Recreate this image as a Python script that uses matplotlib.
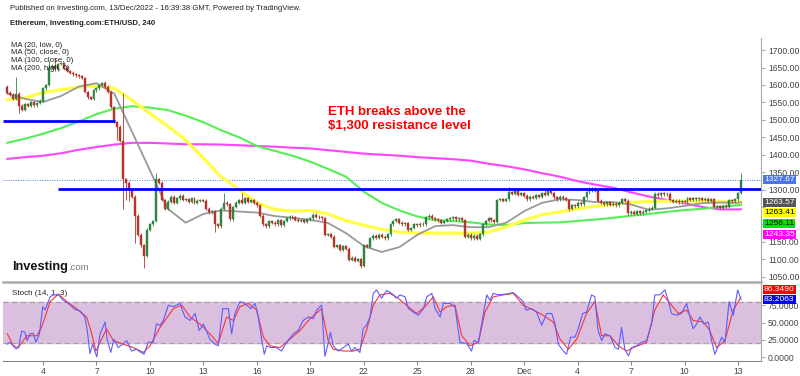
import matplotlib
matplotlib.use("Agg")
import matplotlib.pyplot as plt
import matplotlib.dates as mdates
import matplotlib.transforms as mtransforms
import numpy as np
import pandas as pd

plt.rcParams['font.family'] = ['Liberation Sans', 'DejaVu Sans']

# ---- data (ETH/USD 4h candles) ----
t0 = pd.Timestamp("2022-11-02 00:00")
first_open = 1595
closes = [
    1578, 1572, 1560, 1575, 1540, 1528,   # Nov 2
    1545, 1540, 1550, 1542, 1548, 1555,   # Nov 3
    1590, 1600, 1650, 1655, 1645, 1660,   # Nov 4
    1662, 1650, 1640, 1635, 1630, 1628,   # Nov 5
    1625, 1620, 1580, 1565, 1560, 1585,   # Nov 6
    1590, 1600, 1605, 1595, 1580, 1537,   # Nov 7
    1494, 1480, 1440, 1330, 1320, 1300,   # Nov 8
    1280, 1225, 1170, 1140, 1110, 1185,   # Nov 9
    1200, 1210, 1330, 1320, 1270, 1245,   # Nov 10
    1265, 1280, 1262, 1275, 1282, 1270,   # Nov 11
    1272, 1265, 1275, 1262, 1268, 1270,   # Nov 12
    1268, 1245, 1235, 1238, 1200, 1195,   # Nov 13
    1245, 1262, 1258, 1215, 1250, 1262,   # Nov 14
    1270, 1262, 1275, 1265, 1270, 1262,   # Nov 15
    1255, 1225, 1200, 1195, 1210, 1205,   # Nov 16
    1200, 1212, 1198, 1210, 1218, 1222,   # Nov 17
    1220, 1214, 1210, 1212, 1208, 1215,   # Nov 18
    1218, 1228, 1222, 1220, 1218, 1170,   # Nov 19
    1172, 1165, 1135, 1140, 1128, 1138,   # Nov 20
    1130, 1098, 1105, 1095, 1100, 1082,   # Nov 21
    1140, 1135, 1160, 1168, 1162, 1170,   # Nov 22
    1165, 1160, 1172, 1200, 1210, 1215,   # Nov 23
    1205, 1200, 1203, 1185, 1190, 1200,   # Nov 24
    1198, 1202, 1200, 1220, 1225, 1218,   # Nov 25
    1215, 1212, 1205, 1210, 1215, 1218,   # Nov 26
    1220, 1215, 1218, 1212, 1165, 1170,   # Nov 27
    1160, 1168, 1158, 1172, 1200, 1210,   # Nov 28
    1218, 1212, 1208, 1270, 1272, 1268,   # Nov 29
    1272, 1292, 1288, 1296, 1285, 1290,   # Nov 30
    1282, 1272, 1280, 1276, 1284, 1280,   # Dec 1
    1290, 1285, 1295, 1290, 1278, 1272,   # Dec 2
    1280, 1275, 1270, 1245, 1255, 1252,   # Dec 3
    1262, 1258, 1278, 1292, 1298, 1302,   # Dec 4
    1296, 1268, 1262, 1258, 1264, 1256,   # Dec 5
    1260, 1255, 1262, 1272, 1268, 1232,   # Dec 6
    1236, 1230, 1238, 1232, 1236, 1240,   # Dec 7
    1245, 1248, 1288, 1284, 1290, 1286,   # Dec 8
    1288, 1270, 1265, 1268, 1263, 1267,   # Dec 9
    1265, 1276, 1270, 1275, 1272, 1276,   # Dec 10
    1270, 1274, 1268, 1272, 1250, 1252,   # Dec 11
    1248, 1254, 1250, 1270, 1266, 1272,   # Dec 12
    1290, 1327.67,                        # Dec 13
]
# long wicks (bar index -> price)
wick_hi = {3: 1622, 14: 1668, 16: 1676, 33: 1612, 39: 1577, 50: 1347,
           73: 1290, 79: 1290, 169: 1307, 181: 1304, 196: 1306, 247: 1347}
wick_lo = {4: 1520, 37: 1443, 39: 1245, 40: 1270, 41: 1268, 43: 1147,
           46: 1075, 70: 1178, 119: 1075, 189: 1238}

# moving averages, one reading per day + last bar
ma_times = list(pd.date_range("2022-11-02", "2022-12-13", freq="D")) + [pd.Timestamp("2022-12-13 04:00")]
ma20_low = [1576, 1560, 1551, 1568, 1595, 1605, 1575, 1465, 1355, 1245, 1205, 1230, 1240, 1237,
            1234, 1224, 1219, 1213, 1204, 1175, 1138, 1121, 1135, 1170, 1195, 1198, 1192, 1192,
            1205, 1238, 1262, 1272, 1270, 1264, 1264, 1257, 1242, 1246, 1253, 1261, 1263, 1262, 1263.57]
ma50_close = [1558, 1563, 1578, 1586, 1594, 1597, 1590, 1556, 1518, 1482, 1442, 1390, 1336, 1300,
              1262, 1243, 1238, 1240, 1230, 1211, 1198, 1186, 1178, 1175, 1175, 1175, 1175, 1178,
              1193, 1212, 1228, 1236, 1245, 1252, 1258, 1263, 1266, 1267, 1267, 1266, 1265, 1264, 1263.41]
ma100_close = [1434, 1446, 1460, 1476, 1495, 1516, 1532, 1539, 1535, 1528, 1512, 1493, 1470, 1450,
               1425, 1411, 1397, 1380, 1359, 1337, 1294, 1262, 1240, 1223, 1212, 1210, 1206, 1200,
               1198, 1204, 1205, 1206, 1210, 1214, 1219, 1225, 1230, 1236, 1241, 1245, 1250, 1255, 1256.11]
ma200_high = [1388, 1393, 1397, 1404, 1414, 1422, 1429, 1434, 1434, 1432, 1430, 1430, 1429, 1427,
              1425, 1423, 1420, 1418, 1413, 1408, 1403, 1400, 1397, 1393, 1390, 1387, 1383, 1374,
              1367, 1358, 1347, 1337, 1324, 1314, 1305, 1292, 1280, 1270, 1261, 1250, 1243, 1243, 1243.35]

# stochastic (14, 1, 3): readings at bar positions
k_bar = [0, 0.9, 2.9, 3.7, 4.8, 5.9, 6.7, 7.6, 8.7, 9.6, 10.8, 11.9, 12.7, 14.4, 15.5, 17.2, 18.8,
         20.5, 22.8, 24.4, 26.1, 26.9, 27.8, 28.7, 30.1, 31.2, 32.9, 33.6, 34.8, 35.9, 37.3, 38.8,
         40.2, 41.8, 43.5, 44.6, 46.0, 47.4, 49.1, 50.2, 51.4, 52.5, 54.2, 55.9, 58.1, 59.8, 61.5,
         63.2, 64.6, 66.0, 68.2, 69.9, 71.0, 72.5, 74.4, 75.5, 76.6, 78.3, 80.0, 81.9, 83.4, 84.5,
         85.6, 86.5, 87.3, 88.6, 90.6, 92.3, 94.0, 96.3, 97.9, 99.6, 101.3, 103.0, 104.1, 105.8,
         106.4, 106.9, 107.8, 108.8, 109.7, 111.4, 113.1, 114.8, 115.9, 117.0, 118.7, 119.8, 120.9,
         122.1, 123.2, 124.3, 126.0, 127.7, 129.4, 131.0, 132.2, 133.9, 135.0, 136.7, 138.4, 140.1,
         141.2, 142.9, 144.0, 145.7, 146.8, 149.0, 150.7, 152.4, 154.6, 156.3, 157.1, 158.6, 159.7,
         161.4, 162.5, 163.6, 165.3, 168.1, 170.3, 172.0, 173.7, 174.6, 176.5, 178.2, 179.9, 181.6,
         183.3, 184.4, 185.5, 187.2, 188.3, 189.6, 191.1, 192.2, 193.7, 195.0, 196.7, 197.8, 198.9,
         200.1, 201.2, 202.9, 204.6, 205.7, 206.8, 207.9, 209.1, 210.2, 211.9, 213.5, 215.2, 216.9,
         218.0, 219.7, 221.4, 222.5, 223.6, 225.3, 227.0, 228.7, 229.8, 230.9, 232.1, 233.2, 234.5,
         236.0, 237.1, 238.2, 239.4, 240.5, 241.6, 243.0, 244.4, 245.9, 247]
k_val = [19, 21.5, 12, 14, 37.6, 36, 24, 33.7, 34.6, 21.5, 33.7, 72.7, 68, 87, 89.8, 89.8, 82,
         77.5, 68.8, 67, 58, 38.5, 5.4, 19, 0.5, 33.7, 50.7, 26, 7, 26, 14, 19,
         24, 9, 11.7, 8, 4.4, 21.5, 21.5, 48, 46, 53, 75, 72.7, 77.5, 58, 53,
         63, 38.5, 48, 26, 19, 16.6, 70, 70, 33.7, 63, 80, 77.5, 70, 77.5, 58,
         26, 4.4, 16.6, 14, 14, 9, 21.5, 33.7, 38.5, 53, 58, 55.6, 67.8, 75,
         33.7, 1.4, 16.6, 36, 16.6, 9, 14, 19, 9, 14, 7, 41, 46,
         58, 92, 97, 85, 96, 92, 85, 89.8, 87, 70, 65, 60.5, 70,
         87, 92, 70, 58, 77.5, 77.5, 72.7, 21.5, 20, 9, 24, 21.5, 48,
         89.8, 82, 92, 89.8, 91, 93, 87, 80, 68, 70, 65, 46, 63,
         63, 48, 19, 9, 4.4, 29, 29, 41, 63, 65, 89.8, 87, 38.5,
         24, 33.7, 31, 14, 11.7, 43, 11.7, 2, 14, 16.6, 21.5, 24, 48,
         89.8, 89.8, 97, 82, 63, 60.5, 63, 77.5, 58, 41, 48, 58, 48,
         50.7, 24, 4.4, 16.6, 29, 21.5, 80, 60.5, 97, 83.2063]
d_bar = [0, 2.0, 3.7, 6.5, 9.9, 11.5, 14.4, 17.2, 20.0, 23.3, 26.7, 28.4, 29.8, 31.7, 33.4, 35.7,
         39.0, 42.4, 45.8, 48.0, 51.4, 55.9, 58.7, 61.5, 64.8, 68.2, 71.0, 73.8, 76.1, 78.3, 81.1,
         83.9, 86.2, 88.4, 91.8, 95.1, 98.5, 101.9, 105.8, 108.0, 109.7, 113.1, 116.5, 118.7, 120.9,
         123.2, 125.4, 128.8, 131.6, 135.0, 137.8, 140.6, 143.4, 145.7, 147.9, 150.7, 153.0, 155.8,
         158.6, 160.8, 163.6, 167.0, 170.3, 173.7, 177.1, 180.4, 183.8, 186.1, 188.9, 191.7, 195.0,
         197.8, 200.1, 202.9, 205.7, 208.5, 210.7, 215.2, 218.0, 220.8, 223.1, 225.9, 228.7, 230.9,
         234.3, 236.5, 238.8, 241.6, 244.4, 247]
d_val = [33.7, 16.6, 14, 31, 31, 43, 80, 91, 80, 70, 58, 33.7, 9, 26, 41, 24,
         19, 14, 7, 16.6, 43, 70, 75, 58, 48, 33.7, 20, 58, 53, 72.7, 77.5,
         68, 29, 16.6, 14, 26, 38.5, 55.6, 70, 24, 11.7, 9, 9, 11.7, 38.5,
         75, 89.8, 92, 85, 72.7, 63, 72.7, 87, 65, 72.7, 75, 31, 16.6,
         21.5, 65, 87, 89.8, 92, 75, 68, 60.5, 50.7, 26, 11.7, 26, 63,
         80, 31, 31, 16.6, 9, 14, 21.5, 68, 89.8, 77.5, 63, 68, 53,
         50.7, 38.5, 14, 24, 68, 86.349]

upper_level = 1497
lower_level = 1302
last_price = 1327.67

# ---- build candles ----
n = len(closes)
times = t0 + pd.to_timedelta(np.arange(n) * 4, unit="h")
x = mdates.date2num(times)
opens = np.array([first_open] + closes[:-1], dtype=float)
cl = np.array(closes, dtype=float)
hi = np.maximum(opens, cl) + 4
lo = np.minimum(opens, cl) - 4
for i, v in wick_hi.items():
    hi[i] = v
for i, v in wick_lo.items():
    lo[i] = v
up = cl >= opens
col = np.where(up, "#2e8540", "#b5352b")

def bar_time(b):
    return mdates.date2num(t0 + pd.to_timedelta(np.array(b) * 4, unit="h"))

fig = plt.figure(figsize=(8, 3.76), dpi=100)
ax = fig.add_axes([0.00375, 0.25, 0.9475, 0.649])
ax2 = fig.add_axes([0.00375, 0.0399, 0.9475, 0.2101], sharex=ax)

xmin = mdates.date2num(t0 - pd.Timedelta(hours=5.9))
xmax = mdates.date2num(t0 + pd.Timedelta(hours=1015))

# candles
ax.vlines(x, lo, hi, colors=col, lw=0.6, zorder=3)
ax.bar(x, np.maximum(np.abs(cl - opens), 1.5), bottom=np.minimum(opens, cl),
       width=0.11, color=col, edgecolor=col, lw=0.3, zorder=4)

# moving averages
mx = mdates.date2num(pd.DatetimeIndex(ma_times))
ax.plot(mx, ma200_high, color="#ff44ff", lw=1.5, zorder=2)
ax.plot(mx, ma100_close, color="#55ee55", lw=1.5, zorder=2)
ax.plot(mx, ma50_close, color="#ffff44", lw=2.3, zorder=2)
ax.plot(mx, ma20_low, color="#999999", lw=1.3, zorder=2)

# horizontal levels
ax.hlines(upper_level, xmin + 0.02, mdates.date2num(pd.Timestamp("2022-11-08 01:00")),
          color="#0000ff", lw=2, zorder=5)
ax.hlines(lower_level, mdates.date2num(pd.Timestamp("2022-11-04 20:00")), xmax,
          color="#0000ff", lw=2, zorder=5)
ax.axhline(last_price, color="#4a74e8", ls=(0, (1, 1.5)), lw=0.7, zorder=1)

ax.text(mdates.date2num(pd.Timestamp("2022-11-20 00:00")), 1503,
        "ETH breaks above the\n$1,300 resistance level", color="#ff0000",
        fontsize=9.5, fontweight="bold", ha="left", va="center", linespacing=1.25)

ax.set_xlim(xmin, xmax)
ax.set_ylim(1034.9, 1734.7)
for s in ["top", "left", "bottom"]:
    ax.spines[s].set_visible(False)
ax.spines["right"].set_color("#aaaaaa")
ax.yaxis.tick_right()
yt = np.arange(1050, 1701, 50)
ax.set_yticks(yt)
# 1200 and 1250 sit behind the MA value boxes
ax.set_yticklabels(["" if v in (1200, 1250) else f"{v:.2f}" for v in yt])
ax.tick_params(axis="y", labelsize=6.2, labelcolor="#444444", color="#aaaaaa", length=3, pad=2)
ax.tick_params(axis="x", bottom=False, labelbottom=False)

# price labels on the axis, stacked like TradingView
trans = mtransforms.blended_transform_factory(ax.transAxes, ax.transData)
box = dict(boxstyle="square,pad=0.12", ec="none")
ax.text(1.004, last_price, "1327.67", transform=trans, fontsize=6.1, color="white",
        va="center", ha="left", bbox=dict(box, fc="#4a74e8"), zorder=10)
ma_lbl = [(ma20_low[-1], "#555555", "white"), (ma50_close[-1], "#ffff00", "black"),
          (ma100_close[-1], "#00e600", "black"), (ma200_high[-1], "#ff00ff", "white")]
prev = None
for val, fc, tc in ma_lbl:
    ypos = val if prev is None else min(val, prev - 30.5)
    ax.text(1.004, ypos, f"{val:.2f}", transform=trans, fontsize=6.1, color=tc,
            va="center", ha="left", bbox=dict(box, fc=fc), zorder=10)
    prev = ypos

# stochastic pane
ax2.axhspan(20, 80, color="#dbbfdf", zorder=0)
ax2.axhline(80, color="#a8a0a8", ls=(0, (4, 3)), lw=0.9)
ax2.axhline(20, color="#a8a0a8", ls=(0, (4, 3)), lw=0.9)
ax2.plot(bar_time(d_bar), d_val, color="#ff3333", lw=0.8, zorder=3)
ax2.plot(bar_time(k_bar), k_val, color="#5c5cff", lw=0.8, zorder=4)
ax2.set_ylim(-5.3, 108.3)
ax2.spines["left"].set_visible(False)
ax2.spines["top"].set_color("#aaaaaa")
ax2.spines["top"].set_linewidth(1.8)
ax2.spines["right"].set_color("#aaaaaa")
ax2.spines["bottom"].set_color("#888888")
ax2.yaxis.tick_right()
ax2.set_yticks([0, 25, 50, 75])
ax2.set_yticklabels(["0.0000", "25.0000", "50.0000", "75.0000"])
ax2.tick_params(axis="y", labelsize=6.2, labelcolor="#444444", color="#aaaaaa", length=3, pad=2)

trans2 = mtransforms.blended_transform_factory(ax2.transAxes, ax2.transData)
ax2.text(1.004, 97.3, "86.3490", transform=trans2, fontsize=6.1, color="white", va="center", ha="left",
         bbox=dict(box, fc="#ff0000"), zorder=10)
ax2.text(1.004, 83.2, "83.2063", transform=trans2, fontsize=6.1, color="white", va="center", ha="left",
         bbox=dict(box, fc="#0000ff"), zorder=10)
ax2.text(0.012, 0.86, "Stoch (14, 1, 3)", transform=ax2.transAxes, fontsize=5.8, color="#222222",
         va="center", ha="left")

tick_dates = ["2022-11-04", "2022-11-07", "2022-11-10", "2022-11-13", "2022-11-16", "2022-11-19",
              "2022-11-22", "2022-11-25", "2022-11-28", "2022-12-01", "2022-12-04", "2022-12-07",
              "2022-12-10", "2022-12-13"]
tick_labels = ["4", "7", "10", "13", "16", "19", "22", "25", "28", "Dec", "4", "7", "10", "13"]
ax2.set_xticks(mdates.date2num(pd.DatetimeIndex(tick_dates)))
ax2.set_xticklabels(tick_labels)
ax2.tick_params(axis="x", labelsize=6.2, labelcolor="#444444", color="#888888", length=3, pad=1.5)

# header texts
fig.text(10 / 800, 1 - 8 / 376, "Published on Investing.com, 13/Dec/2022 - 16:39:38 GMT, Powered by TradingView.",
         fontsize=5.6, color="#222222", va="center", ha="left")
fig.text(10 / 800, 1 - 23.5 / 376, "Ethereum, Investing.com:ETH/USD, 240",
         fontsize=5.6, fontweight="bold", color="#222222", va="center", ha="left")
for j, s in enumerate(["MA (20, low, 0)", "MA (50, close, 0)", "MA (100, close, 0)", "MA (200, high, 0)"]):
    fig.text(11 / 800, 1 - (45.5 + 7.5 * j) / 376, s, fontsize=5.6, color="#222222",
             va="center", ha="left", zorder=10)

# Investing.com logo
fig.text(12 / 800, 1 - 267 / 376, "Investing", fontsize=9.2, fontweight="bold", color="#111111",
         va="center", ha="left")
fig.text(68.5 / 800, 1 - 268 / 376, ".com", fontsize=6.8, color="#777777", va="center", ha="left")

fig.savefig("out.png", dpi=100)
